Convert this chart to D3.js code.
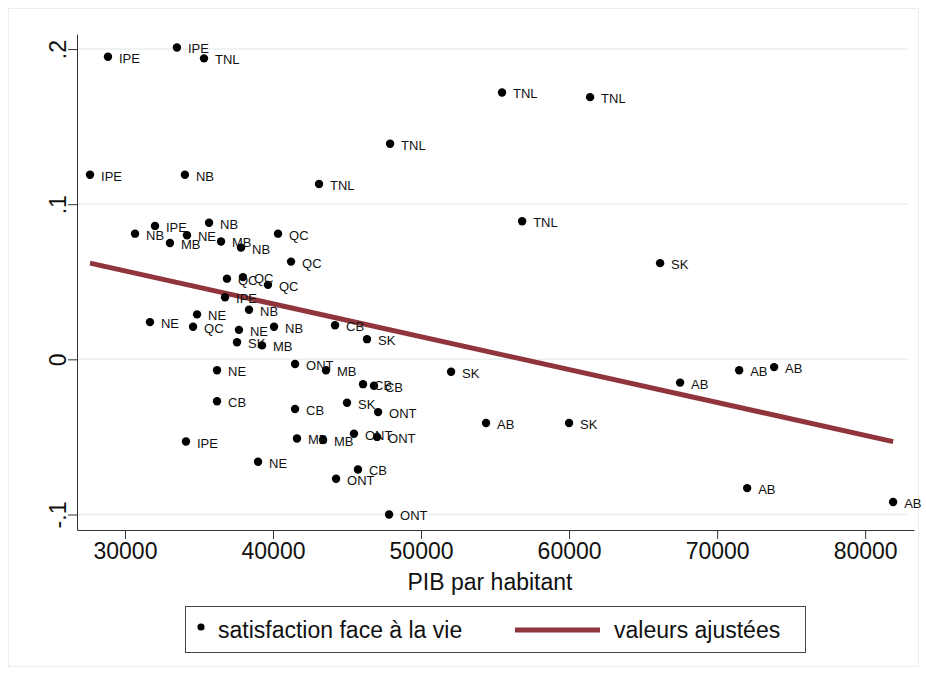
<!DOCTYPE html>
<html>
<head>
<meta charset="utf-8">
<script src="https://cdn.jsdelivr.net/npm/d3@7"></script>
<style>
  body { margin: 0; background: #fff; }
  svg text { font-family: "Liberation Sans", Arial, Helvetica, sans-serif; fill: #111; }
</style>
</head>
<body>
<div class="chart"></div>
<script>
var svgWidth = 926;
var svgHeight = 675;

// data: province, GDP per head, life satisfaction
var provinces = ["IPE","IPE","TNL","TNL","TNL","TNL","IPE","NB","TNL","TNL",
  "SK","NB","IPE","NE","MB","NB","MB","NB","QC","QC",
  "QC","QC","QC","IPE","NB","NE","NE","QC","NE","NB",
  "SK","MB","CB","SK","NE","ONT","MB","CB","CB","SK",
  "CB","CB","SK","ONT","IPE","MB","MB","ONT","ONT","NE",
  "CB","ONT","ONT","AB","SK","AB","AB","AB","AB","AB"];
var pib = [28850,33510,35340,55470,61420,47910,27640,34050,43110,56830,
  66150,30680,32030,34190,33040,35680,36490,37840,40340,41220,
  36890,37970,39660,36760,38380,31690,34870,34600,37700,40070,
  37570,39260,44190,46350,36220,41490,43580,46080,46820,52030,
  36220,41490,45000,47100,34120,41620,43380,45470,47030,38990,
  45740,44260,47840,54390,60000,67500,71490,73850,72030,81890];
var satisfaction = [0.195,0.201,0.194,0.172,0.169,0.139,0.119,0.119,0.113,0.089,
  0.062,0.081,0.086,0.080,0.075,0.088,0.076,0.072,0.081,0.063,
  0.052,0.053,0.048,0.040,0.032,0.024,0.029,0.021,0.019,0.021,
  0.011,0.009,0.022,0.013,-0.007,-0.003,-0.007,-0.016,-0.017,-0.008,
  -0.027,-0.032,-0.028,-0.034,-0.053,-0.051,-0.052,-0.048,-0.050,-0.066,
  -0.071,-0.077,-0.100,-0.041,-0.041,-0.015,-0.007,-0.005,-0.083,-0.092];

// fitted values at both ends of the line
var fitPib = [27640, 81890];
var fitValues = [0.062, -0.053];

var xTicks = [30000, 40000, 50000, 60000, 70000, 80000];
var yTicks = [-0.1, 0, 0.1, 0.2];
var yTickLabels = ["-.1", "0", ".1", ".2"];

var points = pib.map((d, i) => ({x: d, y: satisfaction[i], label: provinces[i]}));
var fit = fitPib.map((d, i) => ({x: d, y: fitValues[i]}));

var maroon = "#90353b";

var svg = d3.select(".chart")
  .append("svg")
  .attr("width", svgWidth)
  .attr("height", svgHeight);

// faint outer frame
svg.append("rect")
  .attr("x", 8.5).attr("y", 8.5)
  .attr("width", 910).attr("height", 658)
  .attr("fill", "none")
  .attr("stroke", "#ececec");

var xScale = d3.scaleLinear()
  .domain([26760, 83300])
  .range([77, 914]);

var yScale = d3.scaleLinear()
  .domain([-0.110, 0.2097])
  .range([530, 34]);

// gridlines
svg.append("g")
  .selectAll("line")
  .data(yTicks)
  .enter()
  .append("line")
  .attr("x1", 78)
  .attr("x2", 908)
  .attr("y1", d => yScale(d))
  .attr("y2", d => yScale(d))
  .attr("stroke", "#e9eff1")
  .attr("stroke-width", 1.5);

// axes
var bottomAxis = d3.axisBottom(xScale)
  .tickValues(xTicks)
  .tickFormat(d3.format("d"))
  .tickSize(9)
  .tickSizeOuter(0)
  .tickPadding(4);

var leftAxis = d3.axisLeft(yScale)
  .tickValues(yTicks)
  .tickFormat((d, i) => yTickLabels[i])
  .tickSize(9)
  .tickSizeOuter(0);

var xAxisG = svg.append("g")
  .attr("transform", "translate(0, 530)")
  .call(bottomAxis);
xAxisG.select(".domain").attr("stroke", "#333");
xAxisG.selectAll(".tick line").attr("stroke", "#333");
xAxisG.selectAll(".tick text")
  .attr("font-size", 23)
  .attr("fill", "#111");

var yAxisG = svg.append("g")
  .attr("transform", "translate(77, 0)")
  .call(leftAxis);
yAxisG.select(".domain").attr("stroke", "#333");
yAxisG.selectAll(".tick line").attr("stroke", "#333");
yAxisG.selectAll(".tick text")
  .attr("font-size", 23)
  .attr("fill", "#111")
  .attr("x", null)
  .attr("dy", null)
  .attr("text-anchor", "middle")
  .attr("transform", "translate(-11, 0) rotate(-90)");

// fitted line
var line = d3.line()
  .x(d => xScale(d.x))
  .y(d => yScale(d.y));

svg.append("path")
  .datum(fit)
  .attr("d", line)
  .attr("fill", "none")
  .attr("stroke", maroon)
  .attr("stroke-width", 5);

// points and their labels
var pointG = svg.append("g");

pointG.selectAll("circle")
  .data(points)
  .enter()
  .append("circle")
  .attr("cx", d => xScale(d.x))
  .attr("cy", d => yScale(d.y))
  .attr("r", 4.2)
  .attr("fill", "#000");

pointG.selectAll("text")
  .data(points)
  .enter()
  .append("text")
  .attr("x", d => xScale(d.x) + 11)
  .attr("y", d => yScale(d.y) + 6)
  .attr("font-size", 13)
  .text(d => d.label);

// x axis title
svg.append("text")
  .attr("x", 490)
  .attr("y", 590)
  .attr("text-anchor", "middle")
  .attr("font-size", 23)
  .text("PIB par habitant");

// legend
var legend = svg.append("g");
legend.append("rect")
  .attr("x", 185.5).attr("y", 606.5)
  .attr("width", 620).attr("height", 46)
  .attr("fill", "#fff")
  .attr("stroke", "#444");
legend.append("circle")
  .attr("cx", 201).attr("cy", 627)
  .attr("r", 3.6)
  .attr("fill", "#000");
legend.append("text")
  .attr("x", 218).attr("y", 638)
  .attr("font-size", 23)
  .text("satisfaction face à la vie");
legend.append("line")
  .attr("x1", 515).attr("x2", 600)
  .attr("y1", 630).attr("y2", 630)
  .attr("stroke", maroon)
  .attr("stroke-width", 5);
legend.append("text")
  .attr("x", 614).attr("y", 638)
  .attr("font-size", 23)
  .text("valeurs ajustées");
</script>
</body>
</html>
